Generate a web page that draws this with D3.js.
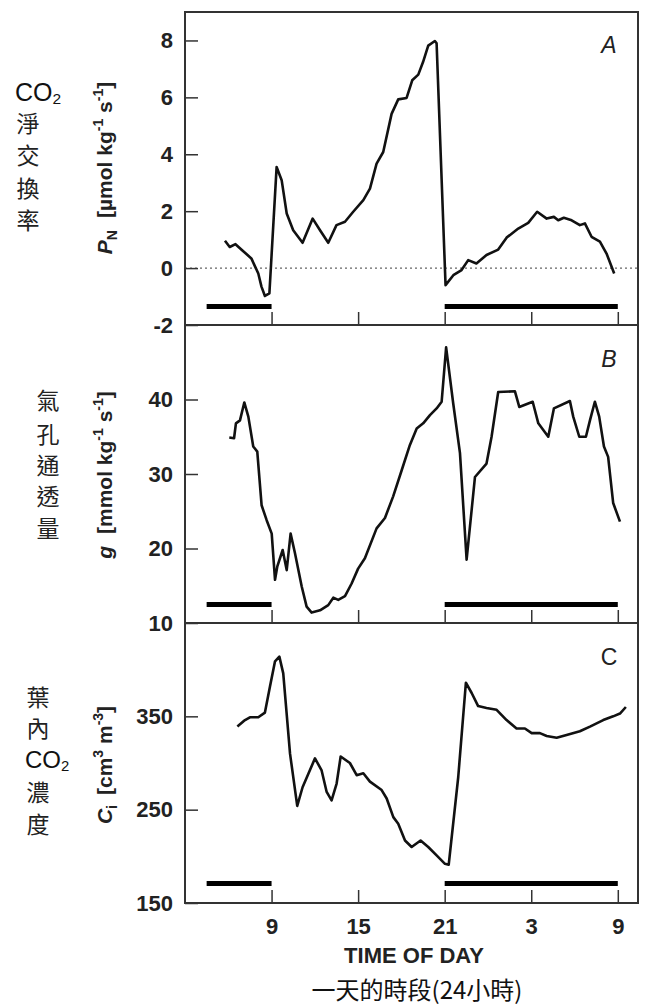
<!DOCTYPE html>
<html><head><meta charset="utf-8">
<script src="https://cdn.jsdelivr.net/npm/d3@7"></script>
<style>body{margin:0;background:#fff}</style>
</head><body><svg id="c" width="646" height="1006"></svg>
<script>
// ---- data ----
const tickHours = [9, 15, 21, 27, 33];
const tickLabels = ["9", "15", "21", "3", "9"];

const timeA = [5.77,6.1,6.5,7.0,7.6,8.08,8.3,8.54,8.85,9.35,9.7,10.05,10.5,11.15,11.85,12.36,12.93,13.5,14.09,14.66,15.36,15.82,16.28,16.74,17.32,17.78,18.36,18.75,19.17,19.5,19.86,20.32,20.44,21.06,21.6,22.17,22.63,23.2,23.9,24.71,25.29,26.1,26.79,27.41,28.07,28.57,28.87,29.26,29.8,30.37,30.72,31.18,31.76,32.22,32.75];
const netCO2 = [0.96,0.74,0.84,0.61,0.34,-0.19,-0.65,-0.98,-0.89,3.55,3.09,1.92,1.33,0.89,1.74,1.33,0.89,1.51,1.63,1.98,2.39,2.79,3.67,4.08,5.42,5.93,5.98,6.6,6.8,7.24,7.82,7.98,7.9,-0.6,-0.25,-0.07,0.28,0.16,0.46,0.65,1.07,1.39,1.59,1.98,1.74,1.8,1.68,1.77,1.68,1.51,1.57,1.1,0.93,0.51,-0.19];

const timeB = [6.07,6.4,6.53,6.81,7.11,7.39,7.73,8.01,8.31,8.66,9.01,9.24,9.4,9.77,10.05,10.32,10.62,11.09,11.43,11.78,12.36,12.93,13.28,13.62,14.09,14.55,15.0,15.47,16.28,16.86,17.43,18.02,18.59,19.06,19.51,19.98,20.44,20.79,21.1,21.59,22.06,22.52,23.1,23.9,24.25,24.71,25.87,26.17,27.1,27.49,28.18,28.57,29.68,29.91,30.33,30.79,31.07,31.41,31.71,32.04,32.33,32.68,33.15];
const conductance = [34.9,34.8,36.8,37.2,39.6,37.7,33.7,33.0,25.8,23.8,22.0,15.8,17.6,19.8,17.1,22.0,19.4,14.9,12.2,11.4,11.7,12.4,13.4,13.1,13.6,15.3,17.3,18.7,22.7,24.1,27.0,30.5,33.9,36.1,36.8,37.9,38.8,39.7,47.0,39.5,32.8,18.5,29.6,31.4,35.0,41.0,41.1,39.0,39.7,36.8,35.0,38.8,39.8,37.7,35.0,35.0,37.2,39.7,37.7,33.7,32.3,26.1,23.6];

const timeC = [6.63,7.16,7.5,8.08,8.54,8.89,9.24,9.54,9.81,10.28,10.78,11.15,12.01,12.47,12.82,13.16,13.51,13.79,14.43,14.9,15.36,15.82,16.63,16.98,17.44,17.78,18.25,18.71,19.33,19.86,20.44,21.02,21.28,21.94,22.47,22.87,23.32,23.9,24.6,25.29,25.98,26.56,27.03,27.6,28.07,28.76,29.45,30.37,31.07,31.99,32.68,33.15,33.56];
const internalCO2 = [339,346,349,349,354,382,409,414,396,310,254,274,305,292,269,260,278,307,300,287,289,280,271,262,242,235,217,210,217,210,201,192,191,285,386,375,361,359,357,346,337,337,332,332,329,327,330,334,339,346,350,353,360];

const nightStart = [4.5, 21];
const nightEnd = [9, 33];
const nightLevelA = -1.35, nightLevelB = 12.5, nightLevelC = 171;

// ---- layout ----
const svg = d3.select("#c");
const X0 = 185, X1 = 638;
const x = d3.scaleLinear().domain([3, 34.4]).range([X0, X1]);
const panels = [
  {key:"A", y: d3.scaleLinear().domain([-2, 9]).range([325, 12]), ticks:[-2,0,2,4,6,8], t: timeA, v: netCO2, night: nightLevelA, letterItalic:true},
  {key:"B", y: d3.scaleLinear().domain([10, 50]).range([623, 325]), ticks:[10,20,30,40], t: timeB, v: conductance, night: nightLevelB, letterItalic:true},
  {key:"C", y: d3.scaleLinear().domain([150, 450]).range([903, 623]), ticks:[150,250,350], t: timeC, v: internalCO2, night: nightLevelC, letterItalic:false}
];
const numFont = "'Liberation Sans', Arial, sans-serif";
const cjkFont = "'Noto Sans CJK TC', 'Noto Sans CJK SC', sans-serif";

panels.forEach((p, i) => {
  const [yb, yt] = p.y.range();
  const g = svg.append("g");
  // zero line for A
  if (p.key === "A") {
    g.append("line").attr("x1", X0).attr("x2", X1).attr("y1", p.y(0)).attr("y2", p.y(0))
      .attr("stroke", "#666").attr("stroke-width", 1.2).attr("stroke-dasharray", "2,3");
  }
  // y axis
  const ya = g.append("g").attr("transform", `translate(${X0},0)`)
    .call(d3.axisLeft(p.y).tickValues(p.ticks).tickFormat(d => String(d)).tickSizeInner(-13).tickSizeOuter(0).tickPadding(12));
  ya.select(".domain").remove();
  ya.selectAll(".tick line").attr("stroke", "#333").attr("stroke-width", 1.5);
  ya.selectAll(".tick text").attr("font-family", numFont).attr("font-size", 22).attr("font-weight", "bold").attr("fill", "#222");
  // x axis
  const xa = g.append("g").attr("transform", `translate(0,${yb})`)
    .call(d3.axisBottom(x).tickValues(tickHours).tickFormat((d, j) => tickLabels[j]).tickSizeInner(-13).tickSizeOuter(0).tickPadding(15));
  xa.select(".domain").remove();
  xa.selectAll(".tick line").attr("stroke", "#333").attr("stroke-width", 1.5);
  xa.selectAll(".tick text").attr("font-family", numFont).attr("font-size", 22).attr("font-weight", "bold").attr("fill", "#222");
  if (p.key !== "C") xa.selectAll(".tick text").remove();
  // frame
  g.append("rect").attr("x", X0).attr("y", yt).attr("width", X1 - X0).attr("height", yb - yt)
    .attr("fill", "none").attr("stroke", "#333").attr("stroke-width", 2);
  // night bars
  g.selectAll(".night").data(nightStart).join("line")
    .attr("x1", d => x(d)).attr("x2", (d, j) => x(nightEnd[j]))
    .attr("y1", p.y(p.night)).attr("y2", p.y(p.night))
    .attr("stroke", "#000").attr("stroke-width", 5);
  // data line
  const pts = p.t.map((t, j) => [t, p.v[j]]);
  g.append("path").datum(pts)
    .attr("d", d3.line().x(d => x(d[0])).y(d => p.y(d[1])))
    .attr("fill", "none").attr("stroke", "#111").attr("stroke-width", 2.6).attr("stroke-linejoin", "round");
  // panel letter
  g.append("text").attr("x", 609).attr("y", yt + [41, 42, 42][i]).attr("text-anchor", "middle")
    .attr("font-family", numFont).attr("font-size", 23).attr("font-style", p.letterItalic ? "italic" : "normal")
    .attr("fill", "#222").text(p.key);
});

// ---- rotated axis titles ----
function richText(parent, segs, opts) {
  const t = parent.append("text").attr("text-anchor", "middle")
    .attr("font-family", numFont).attr("font-size", opts.size).attr("font-weight", "bold").attr("fill", "#222")
    .attr("transform", `translate(${opts.x},${opts.y}) rotate(-90)`);
  let cur = 0;
  segs.forEach(s => {
    const shift = s.shift || 0;
    const ts = t.append("tspan").text(s.t).attr("dy", shift - cur);
    if (s.size) ts.attr("font-size", s.size);
    if (s.italic) ts.attr("font-style", "italic");
    if (s.dx) ts.attr("dx", s.dx);
    cur = shift;
  });
  return t;
}
const titleSize = 21, supS = 14;
richText(svg, [
  {t:"P", italic:true}, {t:"N", shift:5, size:supS},
  {t:"[µmol kg", dx:12}, {t:"-1", shift:-9, size:supS}, {t:" s"}, {t:"-1", shift:-9, size:supS}, {t:"]"}
], {x:112, y:168, size:titleSize});
richText(svg, [
  {t:"g", italic:true},
  {t:"[mmol kg", dx:12}, {t:"-1", shift:-9, size:supS}, {t:" s"}, {t:"-1", shift:-9, size:supS}, {t:"]"}
], {x:112, y:475, size:titleSize});
richText(svg, [
  {t:"C", italic:true}, {t:"i", shift:5, size:supS},
  {t:"[cm", dx:10}, {t:"3", shift:-9, size:supS}, {t:" m"}, {t:"-3", shift:-9, size:supS}, {t:"]"}
], {x:112, y:765, size:titleSize});

// ---- Chinese side labels ----
function co2(xp, yp, fs) {
  const t = svg.append("text").attr("x", xp).attr("y", yp).attr("font-family", numFont).attr("font-size", fs).attr("fill", "#111");
  t.append("tspan").text("CO");
  t.append("tspan").text("2").attr("font-size", fs * 0.62).attr("dy", 3);
}
function vchars(chars, xc, ys, fs) {
  chars.forEach((c, j) => svg.append("text").attr("x", xc).attr("y", ys[j]).attr("text-anchor", "middle")
    .attr("font-family", cjkFont).attr("font-size", fs).attr("fill", "#222").text(c));
}
co2(15, 101, 25);
vchars(["淨","交","換","率"], 28, [132, 164, 197, 229], 23);
vchars(["氣","孔","通","透","量"], 48, [409, 443, 474, 505, 537], 23);
vchars(["葉","內"], 38, [706, 737], 23);
co2(25, 768, 24);
vchars(["濃","度"], 38, [801, 833], 23);

// ---- x axis titles ----
svg.append("text").attr("x", 414).attr("y", 963).attr("text-anchor", "middle")
  .attr("font-family", numFont).attr("font-size", 22).attr("font-weight", "bold").attr("fill", "#222").text("TIME OF DAY");
svg.append("text").attr("x", 417).attr("y", 999).attr("text-anchor", "middle")
  .attr("font-family", cjkFont).attr("font-size", 24).attr("fill", "#111").text("一天的時段(24小時)");
</script>
</body></html>
